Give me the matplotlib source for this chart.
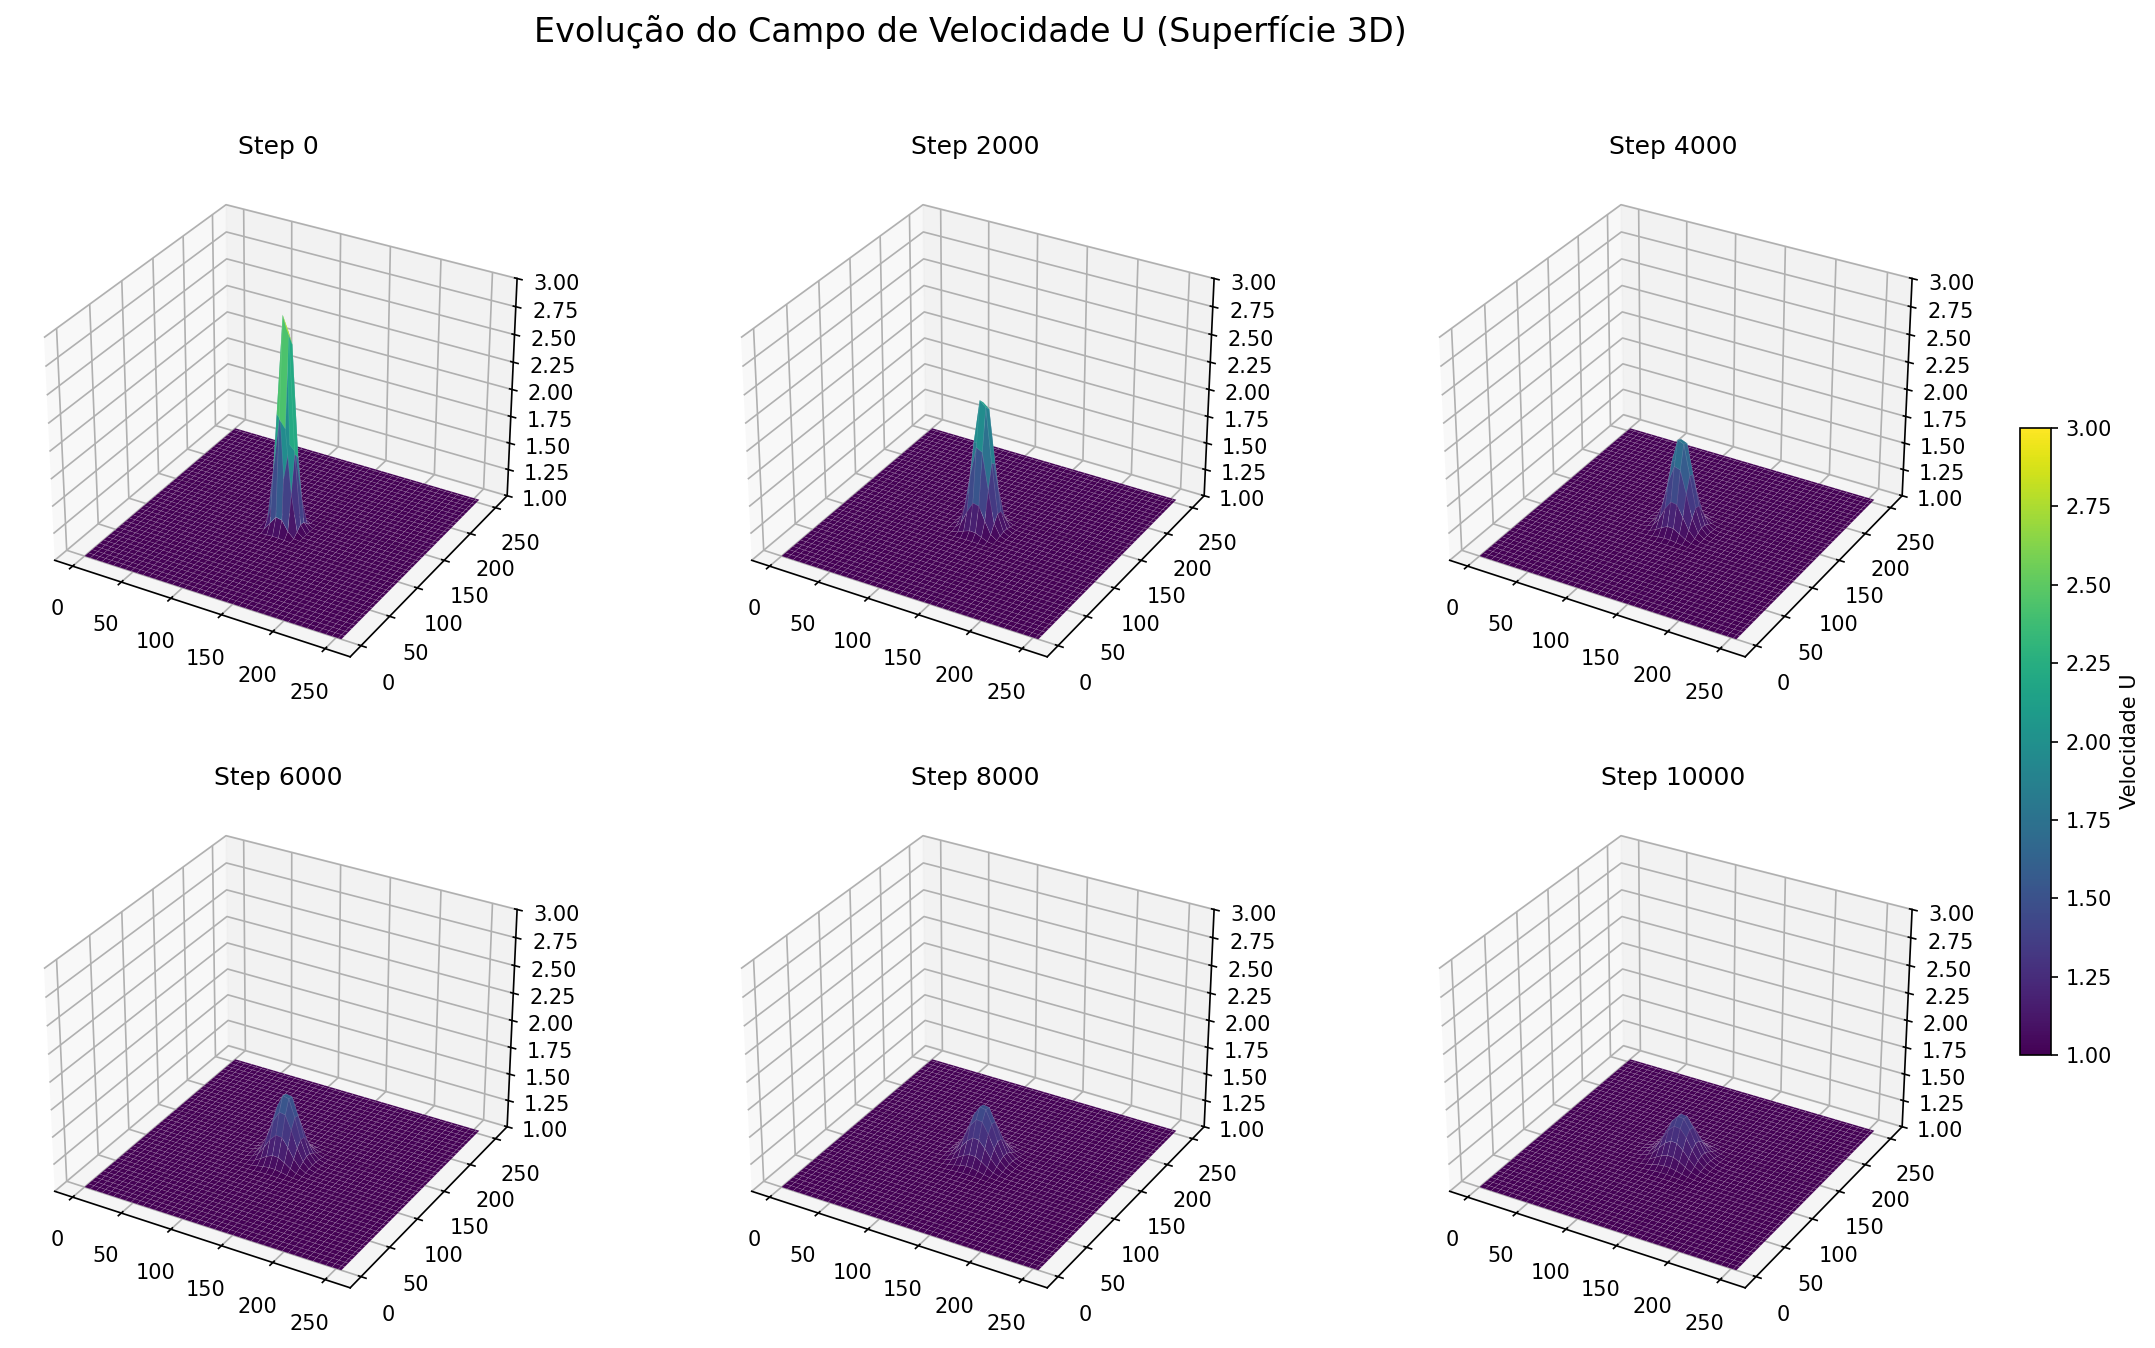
"""
Evolucao do campo de velocidade U em superficies 3D.
Valores lidos da imagem: perfil central por passo, nos nos da malha perto do centro.
"""
import matplotlib
matplotlib.use("Agg")
import matplotlib.pyplot as plt
import numpy as np

steps = [0, 2000, 4000, 6000, 8000, 10000]
# amplitude acima de U=1 em cada passo
amplitudes = [2.06, 1.26, 0.86, 0.61, 0.50, 0.41]

# nos da malha onde o perfil nao e zero
center_nodes = [90, 96, 102, 108, 114, 120, 126, 132, 138, 144, 150, 156, 162, 168]
profile_0 = [0, 0, 0, .004, .08, .52, .97, .90, .36, .04, .001, 0, 0, 0]
profile_2000 = [0, .0003, .004, .05, .24, .64, .968, .93, .52, .15, .025, .002, 0, 0]
profile_4000 = [.0003, .003, .025, .12, .36, .72, .977, .95, .62, .28, .08, .015, .001, 0]
profile_6000 = [.002, .012, .06, .20, .47, .78, .985, .965, .70, .38, .15, .04, .008, .001]
profile_8000 = [.006, .026, .10, .26, .52, .81, .986, .97, .73, .43, .19, .07, .018, .003]
profile_10000 = [.013, .046, .130, .30, .56, .83, .988, .97, .76, .48, .24, .094, .031, .008]
profiles = [profile_0, profile_2000, profile_4000, profile_6000, profile_8000, profile_10000]

z_ticks = [1.0, 1.25, 1.5, 1.75, 2.0, 2.25, 2.5, 2.75, 3.0]

W, H = 2155, 1348
SIDE = 526
centers_x = [278, 975, 1673]
centers_y = [427, 1058]

nodes = np.r_[np.arange(0, 256, 6), 255]
X, Y = np.meshgrid(nodes, nodes)

fig = plt.figure(figsize=(W / 150, H / 150), dpi=150)

for k, step in enumerate(steps):
    cx = centers_x[k % 3]
    cy = centers_y[k // 3]
    ax = fig.add_axes([(cx - SIDE / 2) / W, 1 - (cy + SIDE / 2) / H, SIDE / W, SIDE / H],
                      projection="3d")
    p = np.zeros(len(nodes))
    p[np.searchsorted(nodes, center_nodes)] = profiles[k]
    Z = 1 + amplitudes[k] * np.outer(p, p)
    # arestas claras bem finas, como a malha visivel no original
    surf = ax.plot_surface(X, Y, Z, rstride=1, cstride=1, cmap="viridis", vmin=1, vmax=3,
                           linewidth=0.3, edgecolor=(1, 1, 1, 0.12), antialiased=True)
    ax.set_zlim(1, 3)
    ax.set_zticks(z_ticks)
    ax.set_title(f"Step {step}", pad=5)

cax = fig.add_axes([2020 / W, 1 - 1055 / H, 31 / W, 627 / H])
fig.colorbar(surf, cax=cax, label="Velocidade U")

fig.text(970 / W, 1 - 32 / H, "Evolução do Campo de Velocidade U (Superfície 3D)",
         fontsize=16, ha="center", va="center")

fig.savefig("out.png", dpi=150)
